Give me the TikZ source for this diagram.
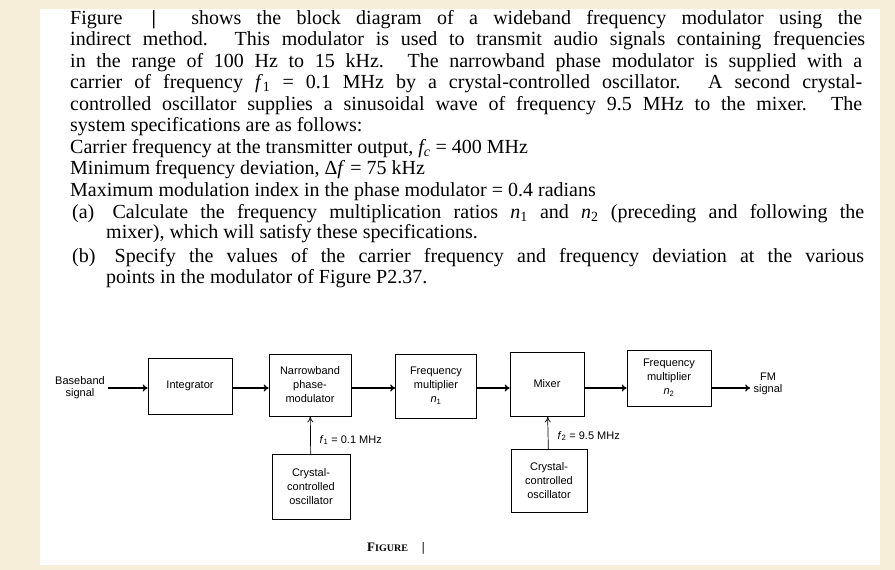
\documentclass[tikz,border=0pt]{standalone}
\usepackage{fontspec}
\setmainfont{Liberation Serif}
\setsansfont{Liberation Sans}
\usetikzlibrary{arrows.meta}
\tikzset{
  blk/.style={draw, line width=0.8pt, align=center, font=\sffamily\fontsize{11}{14}\selectfont},
  lbl/.style={align=center, font=\sffamily\fontsize{11}{12}\selectfont},
  sig/.style={-{To[length=5pt,width=7pt]}, line width=1.4pt},
  ln/.style={anchor=base west, inner sep=0pt, font=\fontsize{20}{20}\selectfont}
}
\begin{document}
\begin{tikzpicture}[x=1pt,y=-1pt]
\fill[fill={rgb,255:red,247;green,238;blue,218}] (0,0) rectangle (895,570);
\fill[white] (40,9) rectangle (880,565);
\useasboundingbox (0,0) rectangle (895,570);

% problem text
\node[ln] (t1) at (70,24) {\makebox[792pt][s]{Figure \hspace{14pt}\textbf{|}\hspace{20pt} shows the block diagram of a wideband frequency modulator using the}};
\node[ln] (t2) at (70,45.5) {\makebox[795pt][s]{indirect method. This modulator is used to transmit audio signals containing frequencies}};
\node[ln] (t3) at (70,67) {\makebox[792pt][s]{in the range of 100 Hz to 15 kHz. The narrowband phase modulator is supplied with a}};
\node[ln] (t4) at (70,88.5) {\makebox[792pt][s]{carrier of frequency \textit{f}\textsubscript{1} = 0.1 MHz by a crystal-controlled oscillator. A second crystal-}};
\node[ln] (t5) at (70,110) {\makebox[792pt][s]{controlled oscillator supplies a sinusoidal wave of frequency 9.5 MHz to the mixer. The}};
\node[ln] (t6) at (70,131.5) {system specifications are as follows:};
\node[ln] (t7) at (70,153) {Carrier frequency at the transmitter output, \textit{f\textsubscript{c}} = 400 MHz};
\node[ln] (t8) at (70,174.5) {Minimum frequency deviation, Δ\textit{f} = 75 kHz};
\node[ln] (t9) at (70,196) {Maximum modulation index in the phase modulator = 0.4 radians};
\node[ln] (t10) at (72,218) {\makebox[792pt][s]{(a)\hspace{6pt} Calculate the frequency multiplication ratios \textit{n}\textsubscript{1} and \textit{n}\textsubscript{2} (preceding and following the}};
\node[ln] (t11) at (106,238) {mixer), which will satisfy these specifications.};
\node[ln] (t12) at (72,262) {\makebox[792pt][s]{(b)\hspace{6pt} Specify the values of the carrier frequency and frequency deviation at the various}};
\node[ln] (t13) at (106,283) {points in the modulator of Figure P2.37.};

% block diagram
\node[lbl] (bb) at (80,388) {Baseband\\signal};
\node[blk, minimum width=84pt, minimum height=56pt] (integ) at (190,386) {Integrator};
\node[blk, minimum width=82pt, minimum height=62pt] (pm) at (310,385) {Narrowband\\phase-\\modulator};
\node[blk, minimum width=81pt, minimum height=64pt] (mul1) at (436,386) {Frequency\\multiplier\\\textit{n}\textsubscript{1}};
\node[blk, minimum width=74pt, minimum height=64pt] (mix) at (547,384) {Mixer};
\node[blk, minimum width=84pt, minimum height=56pt] (mul2) at (669,378) {Frequency\\multiplier\\\textit{n}\textsubscript{2}};
\node[lbl] (fm) at (768,384) {FM\\signal};
\node[blk, minimum width=78pt, minimum height=65pt] (osc1) at (311,487) {Crystal-\\controlled\\oscillator};
\node[blk, minimum width=76pt, minimum height=63pt] (osc2) at (549,481) {Crystal-\\controlled\\oscillator};

\draw[sig] (bb.east |- 0,388) -- (integ.west |- 0,388);
\draw[sig] (integ.east |- 0,388) -- (pm.west |- 0,388);
\draw[sig] (pm.east |- 0,388) -- (mul1.west |- 0,388);
\draw[sig] (mul1.east |- 0,388) -- (mix.west |- 0,388);
\draw[sig] (mix.east |- 0,388) -- (mul2.west |- 0,388);
\draw[sig] (mul2.east |- 0,388) -- (fm.west |- 0,388);
\draw[-{To[length=6pt,width=6pt]}, line width=0.7pt] (osc1) -- (pm);
\draw[-{To[length=6pt,width=6pt]}, line width=0.7pt] (osc2) -- (mix);

\node[lbl, anchor=west] (f1) at (316,440) {\textit{f}\textsubscript{1} = 0.1 MHz};
\node[lbl, anchor=west] (f2) at (554,436) {\textit{f}\textsubscript{2} = 9.5 MHz};

\node[font=\bfseries\fontsize{13}{14}\selectfont] (cap) at (396,548) {F{\fontsize{10}{12}\selectfont IGURE}\hspace{14pt}|};
\end{tikzpicture}
\end{document}
